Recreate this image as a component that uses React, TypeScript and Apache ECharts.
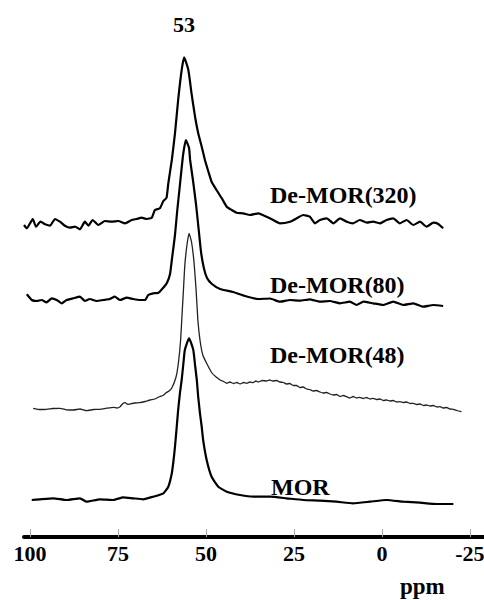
import React, { useEffect, useRef } from "react";
import * as echarts from "echarts";

// Chemical shift axis (ppm) ticks
const tickValues = [100, 75, 50, 25, 0, -25];

// De-MOR(320)
const ppm320 = [101.7, 100.9, 99.2, 98.3, 97.0, 95.7, 94.3, 92.9, 91.5, 90.1, 88.6, 87.2, 85.8, 84.4, 83.4, 82.2, 80.6, 78.7, 76.8, 74.9, 73.0, 71.1, 69.7, 68.3, 66.8, 65.4, 64.5, 63.1, 62.1, 61.2, 60.7, 59.7, 58.8, 57.9, 56.9, 56.2, 55.0, 54.1, 53.1, 52.2, 51.2, 50.3, 49.3, 48.4, 47.0, 45.5, 44.1, 42.7, 41.3, 39.4, 37.5, 35.1, 32.8, 30.9, 29.0, 26.1, 24.2, 22.4, 20.5, 19.0, 17.6, 15.7, 13.8, 11.9, 10.0, 8.2, 6.3, 4.3, 2.5, 0.6, -1.3, -3.2, -5.1, -7.0, -8.9, -10.8, -12.7, -14.6, -16.0, -17.4];
const int320 = [2, -1.3, 8, 0.3, 5.3, 2.7, 1.3, 8, 5.3, 1.3, -0.7, 0.3, -2.3, 5.3, 1.3, 7, 2, 6, 5.3, 6, 3.7, 7, 8, 9.3, 8, 9.3, 17, 18.7, 26, 29.3, 43.7, 67, 93.7, 127, 157, 169.7, 157, 133.7, 110.3, 93.7, 80.3, 67, 55.3, 45.3, 37, 28.7, 20.3, 17, 14.3, 13.7, 12, 13.7, 10.3, 7, 3.7, 5.3, 8.7, 12, 10.3, 3.7, 7, 8.7, 3.7, 8.7, 5.3, 3.7, 7, 4.3, 5.3, 3.7, 7, 8.7, 3.7, 7, 2, 5.3, 0.3, 4.3, 3, -1.3];

// De-MOR(80)
const ppm80 = [100.9, 99.5, 98.1, 96.7, 95.3, 93.8, 92.4, 91.0, 89.6, 87.7, 85.8, 84.4, 83.0, 81.1, 79.2, 77.3, 75.9, 74.4, 72.5, 70.7, 68.8, 67.3, 66.4, 65.0, 63.6, 62.2, 61.1, 60.2, 59.7, 58.8, 58.2, 57.4, 56.5, 55.7, 54.8, 54.5, 53.7, 52.8, 52.0, 51.4, 50.6, 49.7, 48.3, 46.0, 42.3, 38.9, 35.2, 31.8, 29.0, 26.1, 23.3, 20.5, 17.6, 14.8, 11.9, 9.1, 7.2, 5.3, 2.5, -0.4, -3.2, -6.1, -8.9, -11.7, -14.6, -17.4];
const int80 = [5.7, 0, -1, 0, -2.3, 1.7, 0, -3.3, 0, 1.7, 3.3, -1, 1, -1, 0, 1, 3.3, 0, 2.3, 1, 0, 0, 5, 6.7, 7, 12, 17, 26, 40, 65, 88, 115, 145, 160, 152, 140, 120, 95, 68, 48, 32, 22, 16, 11, 8, 4, 1, 1.5, -1.7, 0, -0.7, 0.7, -1.7, -1, -3.3, -1.7, -5, -1.7, -3.3, -5, -1.7, -5, -3.3, -6.7, -5, -6];

// De-MOR(48)
const ppm48 = [99.1, 97.2, 95.3, 93.4, 91.5, 89.6, 87.7, 85.8, 83.9, 82.0, 80.1, 78.2, 76.3, 75.3, 74.4, 73.6, 73.0, 72.2, 71.6, 70.2, 68.8, 67.3, 65.9, 64.5, 63.1, 62.2, 61.4, 60.5, 59.7, 58.5, 57.8, 57.2, 56.8, 56.4, 56.0, 55.4, 54.8, 54.1, 53.4, 52.8, 52.3, 51.7, 50.9, 49.7, 48.3, 47.1, 46.0, 45.0, 44.1, 43.2, 42.2, 41.2, 40.3, 39.3, 38.4, 37.5, 36.6, 35.8, 35.1, 34.0, 32.8, 31.9, 31.0, 30.0, 29.0, 28.0, 27.1, 26.2, 25.2, 24.3, 23.3, 22.4, 21.4, 20.5, 19.5, 18.6, 17.6, 16.7, 15.7, 14.8, 13.8, 12.9, 11.9, 11.0, 10.0, 9.1, 8.2, 7.2, 6.3, 5.3, 4.4, 3.4, 2.5, 1.5, 0.6, -0.4, -1.3, -2.3, -3.2, -4.2, -5.1, -6.1, -7.0, -8.0, -8.9, -9.9, -10.8, -11.8, -12.7, -13.7, -14.6, -15.6, -16.5, -17.4, -18.4, -19.3, -20.3, -21.3, -22.6];
const int48 = [0.7, -0.5, -0.3, 0.5, 0.7, -0.8, -1, 0, -1.7, -0.5, -0.3, 0.8, 1.7, 1, 2.3, 5.5, 6.3, 4.5, 5, 6, 6.3, 7.5, 9, 10, 12.5, 13.5, 16, 18, 21, 32, 47, 69, 94, 119, 144, 164, 175.7, 167, 147, 119, 89, 69, 54, 45, 36, 32, 29, 27.5, 25.7, 27, 25.5, 26.5, 25, 26.5, 25.7, 27, 26.3, 28, 27, 28.5, 28, 29, 28, 28.5, 27, 26.5, 25, 25.5, 23.5, 23.5, 21.5, 22, 20, 19.5, 18, 18.5, 17, 16, 16.5, 15, 14, 14.5, 12.5, 13.5, 12.3, 11, 12.5, 11, 11.7, 10.5, 11.5, 10, 10.7, 9.5, 10, 8.5, 9, 8, 8.5, 7, 7.3, 6.5, 7, 5.5, 5.7, 4.5, 5, 3.5, 4, 3, 3.5, 2, 2.3, 1, 1.5, 0, -0.3, -1.5, -2.7];

// MOR
const ppmMOR = [99.5, 97.2, 93.4, 89.6, 85.8, 83.9, 80.1, 76.3, 73.5, 70.7, 67.8, 65.0, 62.1, 60.7, 59.7, 59.2, 58.8, 58.3, 57.9, 57.4, 56.9, 56.4, 56.0, 54.8, 53.6, 53.1, 52.6, 52.2, 51.7, 51.2, 50.8, 49.8, 48.4, 46.5, 44.1, 40.3, 36.6, 31.8, 27.1, 22.4, 17.6, 12.9, 8.2, 3.4, -1.3, -6.1, -10.8, -15.6, -20.3];
const intMOR = [0, 0.7, 1.7, 0, 1.7, -1.7, 0.7, 0, 2.7, 1.7, 0.7, 3.3, 6.7, 13.3, 26.7, 40, 53.3, 73.3, 90, 106.7, 120, 137, 150, 161.7, 150, 135, 120, 103, 86.7, 73, 60, 40, 23.3, 13.3, 8.3, 5, 3.3, 3.3, 1.7, 0, -0.7, -1.7, -3.3, -1.7, 0, -1.7, -2.7, -4, -4];

// Vertical offsets of the stacked spectra
const offsets = { d320: 310, d80: 237, d48: 128, mor: 37 };

const SERIF = "'Liberation Serif', 'Times New Roman', serif";

function toPoints(ppm: number[], intensity: number[], offset: number) {
  return ppm.map((p, i) => [p, intensity[i] + offset]);
}

export default function App() {
  const ref = useRef<HTMLDivElement>(null);

  useEffect(() => {
    if (!ref.current) return;
    const chart = echarts.init(ref.current, null, { renderer: "svg" });

    const line = (name: string, data: number[][], width: number, color: string) => ({
      name,
      type: "line",
      data,
      showSymbol: false,
      smooth: 0.15,
      lineStyle: { color, width },
      silent: true,
    });

    const label = (text: string, x: number, y: number, size: number, align = "left") => ({
      type: "text",
      x,
      y,
      style: {
        text,
        fill: "#000",
        font: `bold ${size}px ${SERIF}`,
        textAlign: align,
        textVerticalAlign: "middle",
      },
    });

    chart.setOption({
      animation: false,
      grid: { left: 24, right: 0, top: 0, bottom: 63, outerBoundsMode: "none", containLabel: false },
      xAxis: {
        type: "value",
        inverse: true,
        min: -29,
        max: 101.7,
        splitLine: { show: false },
        axisLine: { show: true, lineStyle: { color: "#000", width: 4 } },
        axisTick: {
          show: true,
          inside: true,
          length: 8,
          customValues: tickValues,
          lineStyle: { color: "#aaa", width: 1 },
        },
        axisLabel: {
          customValues: tickValues,
          color: "#000",
          fontFamily: SERIF,
          fontWeight: "bold",
          fontSize: 22,
          margin: 5,
        },
      },
      yAxis: { type: "value", min: 0, max: 537, show: false },
      series: [
        line("De-MOR(320)", toPoints(ppm320, int320, offsets.d320), 2.2, "#000"),
        line("De-MOR(80)", toPoints(ppm80, int80, offsets.d80), 2.2, "#000"),
        line("De-MOR(48)", toPoints(ppm48, int48, offsets.d48), 1.3, "#222"),
        line("MOR", toPoints(ppmMOR, intMOR, offsets.mor), 2.2, "#000"),
      ],
      graphic: [
        label("53", 184, 24, 22, "center"),
        label("De-MOR(320)", 270, 195, 24),
        label("De-MOR(80)", 270, 285, 24),
        label("De-MOR(48)", 270, 355, 24),
        label("MOR", 271, 487, 24),
        label("ppm", 400, 586, 23),
      ],
    });

    return () => chart.dispose();
  }, []);

  return (
    <div
      ref={ref}
      style={{ position: "fixed", left: 0, top: 0, width: 484, height: 600, background: "#fff" }}
    />
  );
}
